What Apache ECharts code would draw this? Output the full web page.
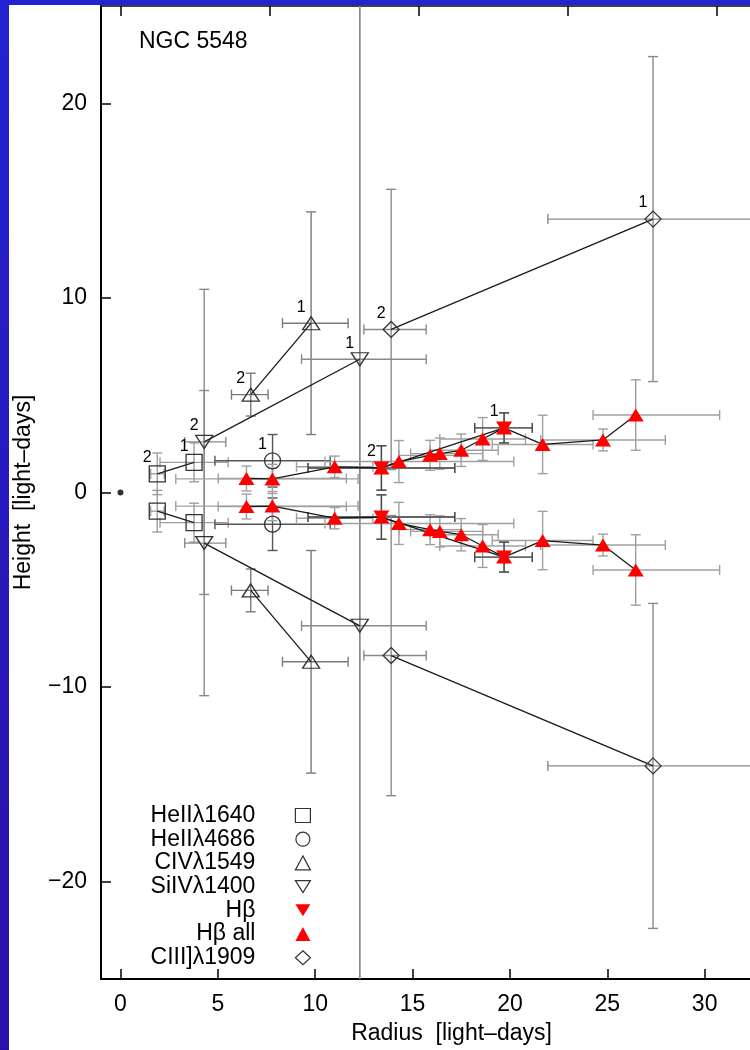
<!DOCTYPE html>
<html><head><meta charset="utf-8">
<script src="https://cdn.jsdelivr.net/npm/echarts@6/dist/echarts.min.js"></script>
<style>html,body{margin:0;padding:0;background:#fff}#c{width:750px;height:1050px}</style>
</head><body><div id="c"></div>
<script>
// ---------- axis ticks ----------
const xTickValues = [0, 5, 10, 15, 20, 25, 30];
const yTickValues = [-20, -10, 0, 10, 20];
const topTickValues = [0, 7.65, 15.3, 22.95, 30.6];

// ---------- data (upper branch; lower branch is the mirror at -Y) ----------
const heII1640X = [1.89, 3.78];
const heII1640Y = [0.96, 1.55];
const heII1640XLo = [1.55, 2.03];
const heII1640XHi = [2.25, 5.53];
const heII1640YErr = [1.07, 1.0];
const heII1640Labels = ['2', '1'];

const heII4686X = [7.81];
const heII4686Y = [1.63];
const heII4686XLo = [4.85];
const heII4686XHi = [10.77];
const heII4686YErr = [1.35];
const heII4686Labels = ['1'];

const civX = [6.69, 9.79];
const civY = [5.03, 8.7];
const civXLo = [5.7, 8.32];
const civXHi = [7.58, 11.69];
const civYErr = [1.1, 5.72];
const civLabels = ['2', '1'];

const sivX = [4.3, 12.29];
const sivY = [2.6, 6.85];
const sivXLo = [3.3, 9.3];
const sivXHi = [5.41, 15.7];
const sivYErr = [7.84, 40];
const sivLabels = ['2', '1'];

const hbX = [13.4, 19.7];
const hbY = [1.26, 3.32];
const hbXLo = [9.63, 18.19];
const hbXHi = [17.17, 21.15];
const hbYErr = [1.14, 0.77];
const hbLabels = ['2', '1'];

const hbAllX = [6.47, 7.8, 11.0, 13.4, 14.3, 15.9, 16.4, 17.5, 18.6, 19.7, 21.68, 24.78, 26.46];
const hbAllY = [0.72, 0.7, 1.32, 1.26, 1.59, 1.91, 2.0, 2.17, 2.75, 3.32, 2.47, 2.7, 3.98];
const hbAllXLo = [5.02, 2.84, 9.04, 9.63, 10.5, 14.3, 14.9, 15.9, 16.4, 18.19, 19.09, 21.58, 24.27];
const hbAllXHi = [11.6, 12.2, 12.96, 17.17, 20.2, 17.5, 18.6, 19.4, 20.8, 21.15, 24.27, 27.98, 30.77];
const hbAllYErr = [0.64, 0.75, 0.55, 1.14, 1.08, 0.77, 0.8, 0.83, 1.1, 0.77, 1.5, 0.56, 1.81];
const hbAllLabels = [];

const ciiiX = [13.9, 27.35];
const ciiiY = [8.38, 14.05];
const ciiiXLo = [12.5, 21.95];
const ciiiXHi = [15.7, 32.75];
const ciiiYErr = [7.2, 8.35];
const ciiiLabels = ['2', '1'];

const originPoint = [[0, 0]];

// ---------- styling ----------
const FONT = 'Liberation Sans, Arial, sans-serif';
const CLEAR = 'rgba(0,0,0,0)';
const groups = [
  {name: 'HeIIλ1640', X: heII1640X, Y: heII1640Y, xLo: heII1640XLo, xHi: heII1640XHi, yErr: heII1640YErr, labels: heII1640Labels,
   symbol: 'rect', size: [16, 16], rotate: 0, fill: CLEAR, stroke: '#333', err: '#9e9e9e'},
  {name: 'HeIIλ4686', X: heII4686X, Y: heII4686Y, xLo: heII4686XLo, xHi: heII4686XHi, yErr: heII4686YErr, labels: heII4686Labels,
   symbol: 'circle', size: [16, 16], rotate: 0, fill: CLEAR, stroke: '#333', err: '#555'},
  {name: 'CIVλ1549', X: civX, Y: civY, xLo: civXLo, xHi: civXHi, yErr: civYErr, labels: civLabels,
   symbol: 'triangle', size: [17, 13], rotate: 0, fill: CLEAR, stroke: '#333', err: '#7a7a7a'},
  {name: 'SiIVλ1400', X: sivX, Y: sivY, xLo: sivXLo, xHi: sivXHi, yErr: sivYErr, labels: sivLabels,
   symbol: 'triangle', size: [17, 13], rotate: 180, fill: CLEAR, stroke: '#333', err: '#8a8a8a'},
  {name: 'Hβ all', X: hbAllX, Y: hbAllY, xLo: hbAllXLo, xHi: hbAllXHi, yErr: hbAllYErr, labels: hbAllLabels,
   symbol: 'triangle', size: [16, 13], rotate: 0, fill: '#ff0000', stroke: '#ff0000', err: '#a0a0a0'},
  {name: 'Hβ', X: hbX, Y: hbY, xLo: hbXLo, xHi: hbXHi, yErr: hbYErr, labels: hbLabels,
   symbol: 'triangle', size: [16, 13], rotate: 180, fill: '#ff0000', stroke: '#ff0000', err: '#4a4a4a'},
  {name: 'CIII]λ1909', X: ciiiX, Y: ciiiY, xLo: ciiiXLo, xHi: ciiiXHi, yErr: ciiiYErr, labels: ciiiLabels,
   symbol: 'diamond', size: [16, 16], rotate: 0, fill: CLEAR, stroke: '#333', err: '#8a8a8a'}
];

function errData(g) {
  const out = [];
  g.X.forEach((x, i) => {
    const y = g.Y[i], e = g.yErr[i];
    out.push([x, y, g.xLo[i], g.xHi[i], y - e, y + e]);
    out.push([x, -y, g.xLo[i], g.xHi[i], -y - e, -y + e]);
  });
  return out;
}
function makeRender(color, width) {
  return function (params, api) {
    const x = api.value(0), y = api.value(1);
    const a = api.coord([api.value(2), y]), b = api.coord([api.value(3), y]);
    const c = api.coord([x, api.value(4)]), d = api.coord([x, api.value(5)]);
    const h = 5;
    const st = {stroke: color, lineWidth: width};
    const ln = (x1, y1, x2, y2) => ({type: 'line', shape: {x1, y1, x2, y2}, style: st});
    return {type: 'group', children: [
      ln(a[0], a[1], b[0], b[1]), ln(a[0], a[1] - h, a[0], a[1] + h), ln(b[0], b[1] - h, b[0], b[1] + h),
      ln(c[0], c[1], d[0], d[1]), ln(c[0] - h, c[1], c[0] + h, c[1]), ln(d[0] - h, d[1], d[0] + h, d[1])
    ]};
  };
}

const series = [];
groups.forEach((g) => {
  series.push({
    type: 'custom', name: g.name, xAxisIndex: 0, yAxisIndex: 0, clip: true, z: 1,
    renderItem: makeRender(g.err, 1.4), data: errData(g), encode: {x: 0, y: 1}, silent: true
  });
});
groups.forEach((g) => {
  const isRed = g.fill !== CLEAR;
  const common = {
    type: 'line', name: g.name, symbol: g.symbol, symbolSize: g.size, symbolRotate: g.rotate,
    showSymbol: true, showAllSymbol: true, silent: true, z: isRed ? 4 : 3,
    itemStyle: {color: g.fill, borderColor: g.stroke, borderWidth: isRed ? 0 : 1.3},
    lineStyle: {color: '#1a1a1a', width: 1.3}, emphasis: {disabled: true}
  };
  series.push(Object.assign({}, common, {
    data: g.X.map((x, i) => [x, g.Y[i]]),
    label: {show: g.labels.length > 0, position: 'inside', offset: [-10, -16],
      formatter: p => g.labels[p.dataIndex] || '', fontSize: 16, color: '#000', fontFamily: FONT}
  }));
  series.push(Object.assign({}, common, {
    data: g.X.map((x, i) => [x, -g.Y[i]])
  }));
});
series.push({type: 'scatter', name: 'origin', data: originPoint, symbol: 'circle', symbolSize: 6,
  itemStyle: {color: '#000'}, silent: true, z: 5});

const downTri = 'path://M0,0L20,0L10,16Z';
const legendData = [
  {name: 'HeIIλ1640', icon: 'rect', itemStyle: {color: CLEAR, borderColor: '#333', borderWidth: 1.2}},
  {name: 'HeIIλ4686', icon: 'circle', itemStyle: {color: CLEAR, borderColor: '#333', borderWidth: 1.2}},
  {name: 'CIVλ1549', icon: 'triangle', itemStyle: {color: CLEAR, borderColor: '#333', borderWidth: 1.2}},
  {name: 'SiIVλ1400', icon: downTri, itemStyle: {color: CLEAR, borderColor: '#333', borderWidth: 1.2}},
  {name: 'Hβ', icon: downTri, itemStyle: {color: '#ff0000', borderWidth: 0}},
  {name: 'Hβ all', icon: 'triangle', itemStyle: {color: '#ff0000', borderWidth: 0}},
  {name: 'CIII]λ1909', icon: 'diamond', itemStyle: {color: CLEAR, borderColor: '#333', borderWidth: 1.2}}
];

const chart = echarts.init(document.getElementById('c'), null, {renderer: 'canvas'});
chart.setOption({
  animation: false,
  backgroundColor: '#ffffff',
  textStyle: {fontFamily: FONT},
  title: {text: 'NGC 5548', left: 139, top: 30, padding: 0,
    textStyle: {fontSize: 23, fontWeight: 'normal', color: '#000', fontFamily: FONT, lineHeight: 24}},
  grid: {left: 101, width: 701, top: 6, height: 973, containLabel: false, outerBoundsMode: 'none'},
  legend: {
    orient: 'vertical', align: 'right', right: 439, top: 804, padding: 0,
    itemWidth: 15, itemHeight: 14, itemGap: 0.7, selectedMode: false,
    textStyle: {fontSize: 23, color: '#000', fontFamily: FONT, lineHeight: 22, padding: [0, 35, 0, 0]},
    data: legendData
  },
  xAxis: [{
    type: 'value', position: 'bottom', min: -1, max: 35,
    name: 'Radius  [light–days]', nameLocation: 'middle', nameGap: 43,
    nameTextStyle: {fontSize: 23, color: '#000', fontFamily: FONT},
    axisLine: {show: true, onZero: false, lineStyle: {color: '#000', width: 2}},
    axisTick: {show: true, inside: true, length: 10, customValues: xTickValues, lineStyle: {color: '#000', width: 1.5}},
    axisLabel: {show: true, customValues: xTickValues, fontSize: 23, color: '#000', margin: 14, fontFamily: FONT},
    splitLine: {show: false}
  }, {
    type: 'value', position: 'top', min: -1, max: 35,
    axisLine: {show: true, onZero: false, lineStyle: {color: '#000', width: 1.5}},
    axisTick: {show: true, inside: true, length: 10, customValues: topTickValues, lineStyle: {color: '#000', width: 1.5}},
    axisLabel: {show: false},
    splitLine: {show: false}
  }],
  yAxis: [{
    type: 'value', min: -25, max: 25,
    name: 'Height  [light–days]', nameLocation: 'middle', nameGap: 66, nameRotate: 90,
    nameTextStyle: {fontSize: 23, color: '#000', fontFamily: FONT},
    axisLine: {show: true, onZero: false, lineStyle: {color: '#000', width: 2}},
    axisTick: {show: true, inside: true, length: 10, customValues: yTickValues, lineStyle: {color: '#000', width: 1.5}},
    axisLabel: {show: true, customValues: yTickValues, fontSize: 23, color: '#000', margin: 14, fontFamily: FONT,
      formatter: v => (v < 0 ? '\u2212' + (-v) : String(v))},
    splitLine: {show: false}
  }],
  graphic: [
    {type: 'rect', left: 0, top: 0, z: 100, shape: {width: 750, height: 5}, style: {fill: '#2323d2'}},
    {type: 'rect', left: 0, top: 0, z: 100, shape: {width: 9, height: 1050},
      style: {fill: new echarts.graphic.LinearGradient(0, 0, 0, 1, [{offset: 0, color: '#2323d2'}, {offset: 1, color: '#2b10a8'}])}}
  ],
  series: series
});
</script></body></html>
